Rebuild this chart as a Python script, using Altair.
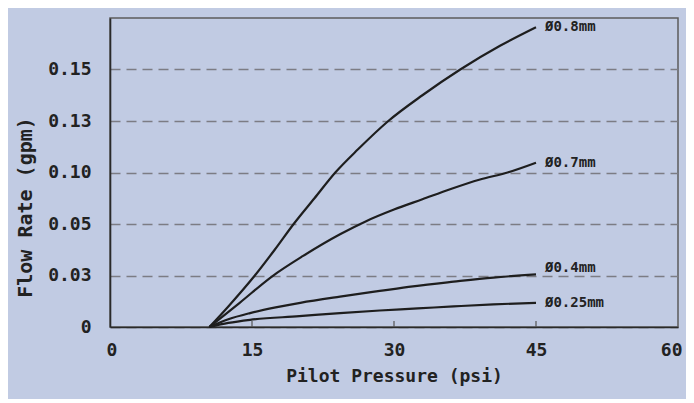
import json
import altair as alt
import pandas as pd

# ---- data ----
series_names = ["Ø0.8mm", "Ø0.7mm", "Ø0.4mm", "Ø0.25mm"]

pressure_08 = [10.5, 12.5, 15.3, 17.4, 19.4, 21.6, 23.8, 26.2, 29.4, 33.0, 37.0, 41.2, 45.0]
flow_08 = [0.0, 0.40, 1.00, 1.50, 2.00, 2.50, 3.00, 3.45, 4.00, 4.50, 5.00, 5.46, 5.82]

pressure_07 = [10.5, 13.7, 17.1, 20.4, 24.3, 27.0, 30.0, 33.0, 36.0, 39.0, 42.0, 45.0]
flow_07 = [0.0, 0.47, 0.98, 1.38, 1.80, 2.05, 2.28, 2.48, 2.68, 2.86, 3.00, 3.19]

pressure_04 = [10.5, 12.5, 14.8, 17.5, 20.1, 24.3, 28.5, 32.0, 36.3, 40.5, 45.0]
flow_04 = [0.0, 0.15, 0.27, 0.38, 0.47, 0.59, 0.70, 0.79, 0.88, 0.96, 1.02]

pressure_025 = [10.5, 12.5, 14.8, 20.0, 24.3, 28.5, 32.5, 36.3, 40.5, 45.0]
flow_025 = [0.0, 0.08, 0.14, 0.21, 0.27, 0.32, 0.36, 0.40, 0.44, 0.47]

# y axis: evenly spaced grid positions with the reference's printed labels
y_tick_positions = [0, 1, 2, 3, 4, 5]
y_tick_labels = ["0", "0.03", "0.05", "0.10", "0.13", "0.15"]
x_tick_values = [0, 15, 30, 45, 60]
x_inner_ticks = [15, 30, 45]

# ---- build tables ----
rows = []
for name, ps, fs in zip(series_names,
                        [pressure_08, pressure_07, pressure_04, pressure_025],
                        [flow_08, flow_07, flow_04, flow_025]):
    for i, (p, f) in enumerate(zip(ps, fs)):
        rows.append({"series": name, "pressure": p, "flow": f, "order": i})
df = pd.DataFrame(rows)
ends = df.sort_values("order").groupby("series", as_index=False).last()
ticks_df = pd.DataFrame({"pressure": x_inner_ticks})

W, H = 568, 309
FONT = "DejaVu Sans Mono"
INK = "#222222"

label_expr = json.dumps(y_tick_labels) + "[datum.value]"

x_scale = alt.Scale(domain=[0, 60], nice=False)
y_scale = alt.Scale(domain=[0, 6], nice=False)

lines = alt.Chart(df).mark_line(
    interpolate="monotone", color="#1e1e1e", strokeWidth=2.2
).encode(
    x=alt.X("pressure:Q", scale=x_scale,
            axis=alt.Axis(values=x_tick_values, title="Pilot Pressure (psi)",
                          grid=False, ticks=False, labelPadding=14,
                          labelFontSize=18, labelFont=FONT, labelFontWeight="bold",
                          labelColor=INK, labelFlush=True, labelFlushOffset=4,
                          titleFont=FONT, titleFontSize=18, titleFontWeight="bold",
                          titleColor=INK, titleY=49, titleBaseline="middle",
                          domainColor="#2a2a2a", domainWidth=1.6)),
    y=alt.Y("flow:Q", scale=y_scale,
            axis=alt.Axis(values=y_tick_positions, labelExpr=label_expr,
                          title="Flow Rate (gpm)", ticks=False, labelPadding=19,
                          labelFontSize=18, labelFont=FONT, labelFontWeight="bold",
                          labelColor=INK,
                          grid=True, gridDash=[10, 6], gridColor="#7c7c84",
                          gridWidth=1.3,
                          titleFont=FONT, titleFontSize=20, titleFontWeight="bold",
                          titleColor=INK, titleAngle=270, titleX=-85, titleY=189,
                          titleAlign="center", titleBaseline="middle",
                          domainColor="#2a2a2a", domainWidth=1.6)),
    detail="series:N",
    order="order:Q",
)

inner_ticks = alt.Chart(ticks_df).mark_rule(color="#555555", strokeWidth=1.2).encode(
    x=alt.X("pressure:Q", scale=x_scale),
    y=alt.value(H),
    y2=alt.value(H - 6),
)

labels_main = alt.Chart(ends).transform_filter(
    alt.datum.series != "Ø0.4mm"
).mark_text(align="left", baseline="middle", dx=9, font=FONT, fontSize=14,
            fontWeight="bold", color=INK).encode(
    x=alt.X("pressure:Q", scale=x_scale),
    y=alt.Y("flow:Q", scale=y_scale),
    text="series:N",
)

labels_04 = alt.Chart(ends).transform_filter(
    alt.datum.series == "Ø0.4mm"
).mark_text(align="left", baseline="middle", dx=9, dy=-6, font=FONT, fontSize=14,
            fontWeight="bold", color=INK).encode(
    x=alt.X("pressure:Q", scale=x_scale),
    y=alt.Y("flow:Q", scale=y_scale),
    text="series:N",
)

chart = alt.layer(lines, inner_ticks, labels_main, labels_04).properties(
    width=W, height=H,
    autosize=alt.AutoSizeParams(type="none"),
    padding={"left": 102, "top": 10, "right": 8, "bottom": 72},
    background="#c1cbe3",
).configure_view(
    stroke="#5c5c5c", strokeWidth=1.5
)

chart.save("out.html", embed_options={"renderer": "svg", "actions": False})
